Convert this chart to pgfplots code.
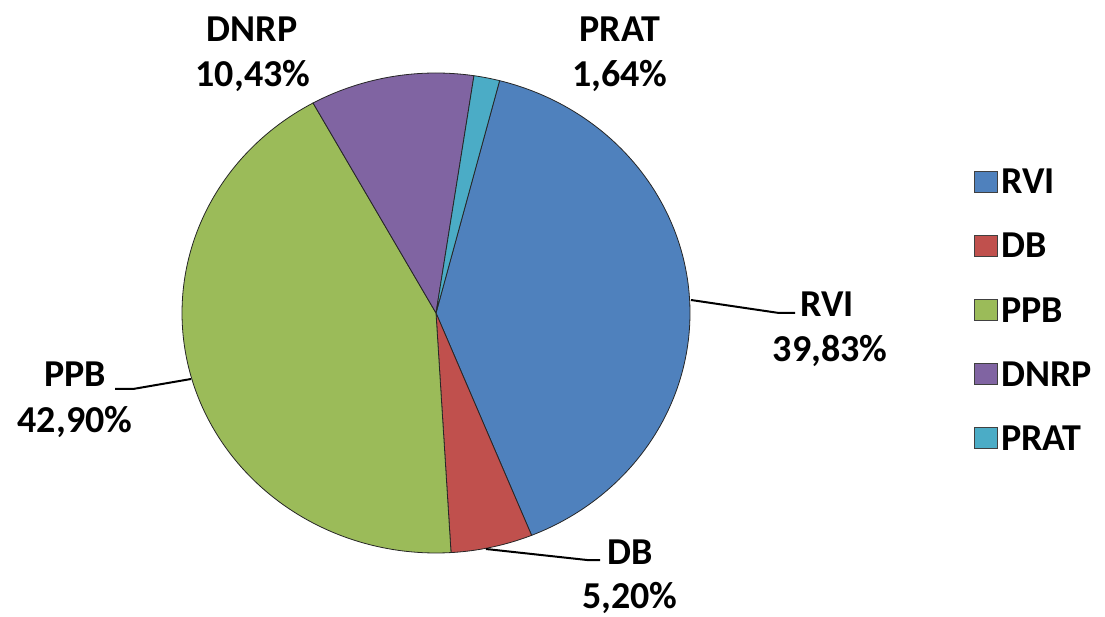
\documentclass[border=0pt]{standalone}
\usepackage{pgfplots}
\pgfplotsset{compat=1.18}
\usepackage{fontspec}
\setmainfont{Carlito}
\definecolor{cRVI}{HTML}{4F81BD}
\definecolor{cDB}{HTML}{C0504D}
\definecolor{cPPB}{HTML}{9BBB59}
\definecolor{cDNRP}{HTML}{8064A2}
\definecolor{cPRAT}{HTML}{4BACC6}
% shares (%)
\def\vRVI{39.83}
\def\vDB{5.20}
\def\vPPB{42.90}
\def\vDNRP{10.43}
\def\vPRAT{1.64}
% angles (clockwise from start angle)
\pgfmathsetmacro{\aS}{75.5}
\pgfmathsetmacro{\aA}{\aS-3.6*\vRVI}
\pgfmathsetmacro{\aB}{\aA-3.6*\vDB}
\pgfmathsetmacro{\aC}{\aB-3.6*\vPPB}
\pgfmathsetmacro{\aD}{\aC-3.6*\vDNRP}
\pgfmathsetmacro{\aE}{\aD-3.6*\vPRAT}
\def\cx{436}\def\cy{303}\def\rx{254}\def\ry{240}
\begin{document}
\begin{tikzpicture}
\begin{axis}[width=1105pt,height=616pt,scale only axis,
  xmin=0,xmax=1105,ymin=0,ymax=616,hide axis,clip=false,
  legend style={at={(axis cs:971,452)},anchor=north west,draw=none,fill=none,
    font=\fontsize{38}{44}\selectfont\bfseries,row sep=32pt,
    nodes={inner sep=3pt}},
  legend cell align=left,
  legend image code/.code={\draw[#1,draw=black!75,line width=1pt] (0pt,-10pt) rectangle (23pt,11pt);},
]
\addplot[fill=cRVI,draw=black!85,line width=0.8pt,domain=\aA:\aS,samples=120,variable=\t]
  ({\cx+\rx*cos(t)},{\cy+\ry*sin(t)}) -- (axis cs:\cx,\cy) -- cycle;
\addlegendentry{RVI}
\addplot[fill=cDB,draw=black!85,line width=0.8pt,domain=\aB:\aA,samples=30,variable=\t]
  ({\cx+\rx*cos(t)},{\cy+\ry*sin(t)}) -- (axis cs:\cx,\cy) -- cycle;
\addlegendentry{DB}
\addplot[fill=cPPB,draw=black!85,line width=0.8pt,domain=\aC:\aB,samples=120,variable=\t]
  ({\cx+\rx*cos(t)},{\cy+\ry*sin(t)}) -- (axis cs:\cx,\cy) -- cycle;
\addlegendentry{PPB}
\addplot[fill=cDNRP,draw=black!85,line width=0.8pt,domain=\aD:\aC,samples=40,variable=\t]
  ({\cx+\rx*cos(t)},{\cy+\ry*sin(t)}) -- (axis cs:\cx,\cy) -- cycle;
\addlegendentry{DNRP}
\addplot[fill=cPRAT,draw=black!85,line width=0.8pt,domain=\aE:\aD,samples=10,variable=\t]
  ({\cx+\rx*cos(t)},{\cy+\ry*sin(t)}) -- (axis cs:\cx,\cy) -- cycle;
\addlegendentry{PRAT}
% leader lines
\draw[line width=2pt] (axis cs:691,316) -- (axis cs:779,303) -- (axis cs:795,303);
\draw[line width=2pt] (axis cs:191,237) -- (axis cs:133,227) -- (axis cs:115,227);
\draw[line width=2pt] (axis cs:486,67) -- (axis cs:587,56) -- (axis cs:600,56);
% labels
\tikzset{lab/.style={font=\fontsize{38}{44}\selectfont\bfseries,anchor=base,inner sep=0pt}}
\node[lab] at (axis cs:827,299) {RVI};
\node[lab] at (axis cs:830,254) {39,83\%};
\node[lab] at (axis cs:75,229) {PPB};
\node[lab] at (axis cs:75,183) {42,90\%};
\node[lab] at (axis cs:630,52) {DB};
\node[lab] at (axis cs:630,8) {5,20\%};
\node[lab] at (axis cs:252,574) {DNRP};
\node[lab] at (axis cs:253,529) {10,43\%};
\node[lab] at (axis cs:620,574) {PRAT};
\node[lab] at (axis cs:620,529) {1,64\%};
\path (axis cs:0,0) (axis cs:1105,616);
\end{axis}
\end{tikzpicture}
\end{document}
